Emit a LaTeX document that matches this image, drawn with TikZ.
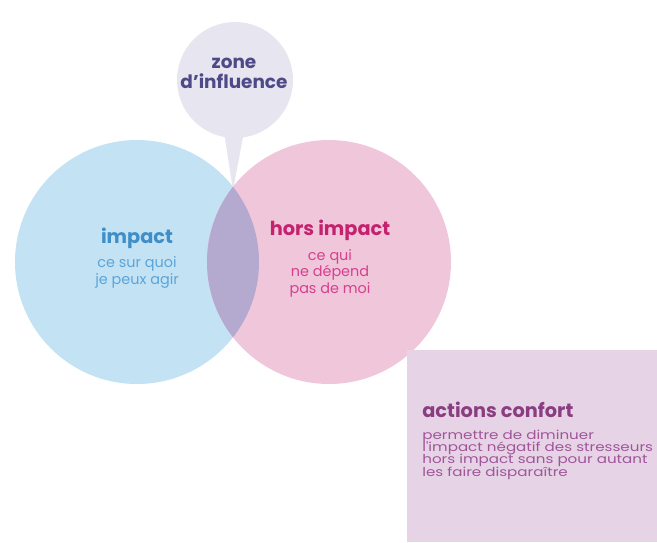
\documentclass[tikz,border=0pt]{standalone}
\usepackage{fontspec}
\setmainfont{Poppins}
\newfontfamily\largefont[FakeStretch=1.23]{Poppins}
\newcommand\serre{\lineskiplimit=-6pt\relax\lineskip=0pt\relax}
\usetikzlibrary{positioning}
\definecolor{bleuC}{HTML}{C3E2F3}
\definecolor{roseC}{HTML}{F0C6DA}
\definecolor{mauveC}{HTML}{B4AACF}
\definecolor{grisC}{HTML}{E7E5EF}
\definecolor{boiteC}{HTML}{E6D4E6}
\definecolor{bleuT}{HTML}{3F8EC9}
\definecolor{bleuP}{HTML}{5BA5D9}
\definecolor{roseT}{HTML}{C4226F}
\definecolor{roseP}{HTML}{D6408D}
\definecolor{zoneT}{HTML}{4D4A87}
\definecolor{confT}{HTML}{8A3D80}
\definecolor{confP}{HTML}{A0559A}
\begin{document}
\begin{tikzpicture}[x=0.02cm, y=-0.02cm,
		titre/.style={font=\bfseries\fontsize{11}{12}\selectfont},
		texte/.style={align=center, font=\fontsize{8.2}{9.4}\selectfont, inner sep=0pt}]
			\useasboundingbox (0,0) rectangle (657,542);
			% bulle
			\fill[grisC] (235,80) circle (58);
			\fill[grisC] (224,132) -- (233,190) coordinate (pointe) -- (244,132) -- cycle;
			% cercles
			\fill[bleuC] (137,262) circle (122);
			\fill[roseC] (329,262) circle (122);
			\begin{scope}
				\clip (137,262) circle (122);
				\fill[mauveC] (329,262) circle (122);
			\end{scope}
			% boite
			\fill[boiteC] (407,350) rectangle (657,542);
			% textes
			\node[text=zoneT, align=center, font=\bfseries\fontsize{10.5}{11.4}\selectfont] (zone) at (234,73) {zone\\d'influence};
			\node[titre, text=bleuT] (impact) at (137,238) {impact};
			\node[texte, text=bleuP, below=1pt of impact] (impactTxt) {ce sur quoi\\je peux agir};
			\node[titre, text=roseT] (hors) at (330,230) {hors impact};
			\node[texte, text=roseP, below=1.5pt of hors] (horsTxt) {ce qui\\ne dépend\\pas de moi};
			\node[titre, text=confT, anchor=west, inner sep=0pt] (conf) at (422,410) {actions confort};
			\node[texte, text=confP, align=left, anchor=north west, font=\largefont\fontsize{7}{6.9}\selectfont\serre] (confTxt) at (422,430) {permettre de diminuer\\l'impact négatif des stresseurs\\hors impact sans pour autant\\les faire disparaître};
		\end{tikzpicture}
\end{document}
